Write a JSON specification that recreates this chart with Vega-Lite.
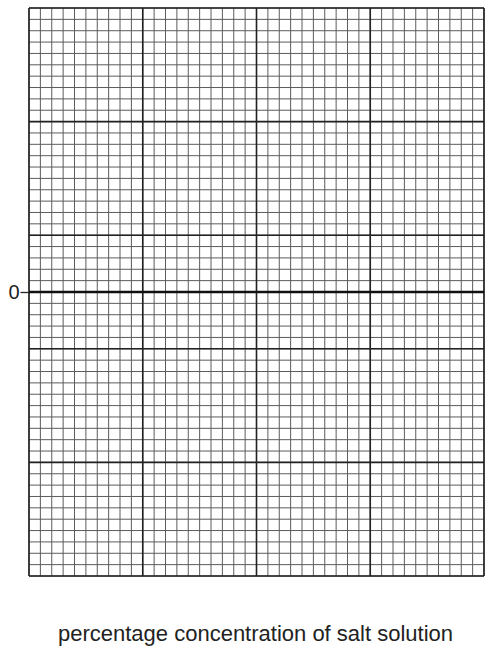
{
  "$schema": "https://vega.github.io/schema/vega-lite/v6.json",
  "width": 455,
  "height": 568,
  "autosize": "none",
  "padding": {"left": 29, "top": 8, "right": 7, "bottom": 77},
  "background": "white",
  "config": {
    "view": {"stroke": null},
    "font": "Liberation Sans"
  },
  "datasets": {
    "vlines": [
      {"x": 0}, {"x": 1}, {"x": 2}, {"x": 3}, {"x": 4}, {"x": 5}, {"x": 6}, {"x": 7}, {"x": 8}, {"x": 9},
      {"x": 10}, {"x": 11}, {"x": 12}, {"x": 13}, {"x": 14}, {"x": 15}, {"x": 16}, {"x": 17}, {"x": 18}, {"x": 19},
      {"x": 20}, {"x": 21}, {"x": 22}, {"x": 23}, {"x": 24}, {"x": 25}, {"x": 26}, {"x": 27}, {"x": 28}, {"x": 29},
      {"x": 30}, {"x": 31}, {"x": 32}, {"x": 33}, {"x": 34}, {"x": 35}, {"x": 36}, {"x": 37}, {"x": 38}, {"x": 39},
      {"x": 40}
    ],
    "hlines": [
      {"y": -25}, {"y": -24}, {"y": -23}, {"y": -22}, {"y": -21}, {"y": -20}, {"y": -19}, {"y": -18}, {"y": -17}, {"y": -16},
      {"y": -15}, {"y": -14}, {"y": -13}, {"y": -12}, {"y": -11}, {"y": -10}, {"y": -9}, {"y": -8}, {"y": -7}, {"y": -6},
      {"y": -5}, {"y": -4}, {"y": -3}, {"y": -2}, {"y": -1}, {"y": 0}, {"y": 1}, {"y": 2}, {"y": 3}, {"y": 4},
      {"y": 5}, {"y": 6}, {"y": 7}, {"y": 8}, {"y": 9}, {"y": 10}, {"y": 11}, {"y": 12}, {"y": 13}, {"y": 14},
      {"y": 15}, {"y": 16}, {"y": 17}, {"y": 18}, {"y": 19}, {"y": 20}, {"y": 21}, {"y": 22}, {"y": 23}, {"y": 24},
      {"y": 25}
    ]
  },
  "layer": [
    {
      "data": {"name": "vlines"},
      "mark": {"type": "rule", "color": "#5c5c5c", "strokeWidth": 1},
      "encoding": {
        "x": {
          "field": "x",
          "type": "quantitative",
          "scale": {"domain": [0, 40], "nice": false, "zero": false},
          "axis": {
            "title": "percentage concentration of salt solution",
            "titleFontSize": 22,
            "titleFontWeight": "normal",
            "titleColor": "#222222",
            "titlePadding": 47,
            "titleX": 226,
            "labels": false,
            "ticks": false,
            "domain": false,
            "grid": false
          }
        }
      }
    },
    {
      "data": {"name": "hlines"},
      "mark": {"type": "rule", "color": "#5c5c5c", "strokeWidth": 1},
      "encoding": {
        "y": {
          "field": "y",
          "type": "quantitative",
          "scale": {"domain": [-25, 25], "nice": false, "zero": false},
          "axis": {
            "title": null,
            "values": [0],
            "labelFontSize": 20,
            "labelColor": "#222222",
            "labelPadding": 1,
            "tickSize": 9,
            "tickColor": "#222222",
            "tickWidth": 1.3,
            "domain": false,
            "grid": false
          }
        }
      }
    },
    {
      "data": {"name": "vlines"},
      "transform": [{"filter": "datum.x % 10 === 0"}],
      "mark": {"type": "rule", "color": "#222222", "strokeWidth": 1.6},
      "encoding": {"x": {"field": "x", "type": "quantitative"}}
    },
    {
      "data": {"name": "hlines"},
      "transform": [{"filter": "(datum.y + 25) % 10 === 0"}],
      "mark": {"type": "rule", "color": "#222222", "strokeWidth": 1.6},
      "encoding": {"y": {"field": "y", "type": "quantitative"}}
    },
    {
      "data": {"name": "hlines"},
      "transform": [{"filter": "datum.y === 0"}],
      "mark": {"type": "rule", "color": "#111111", "strokeWidth": 2.4},
      "encoding": {"y": {"field": "y", "type": "quantitative"}}
    }
  ]
}
